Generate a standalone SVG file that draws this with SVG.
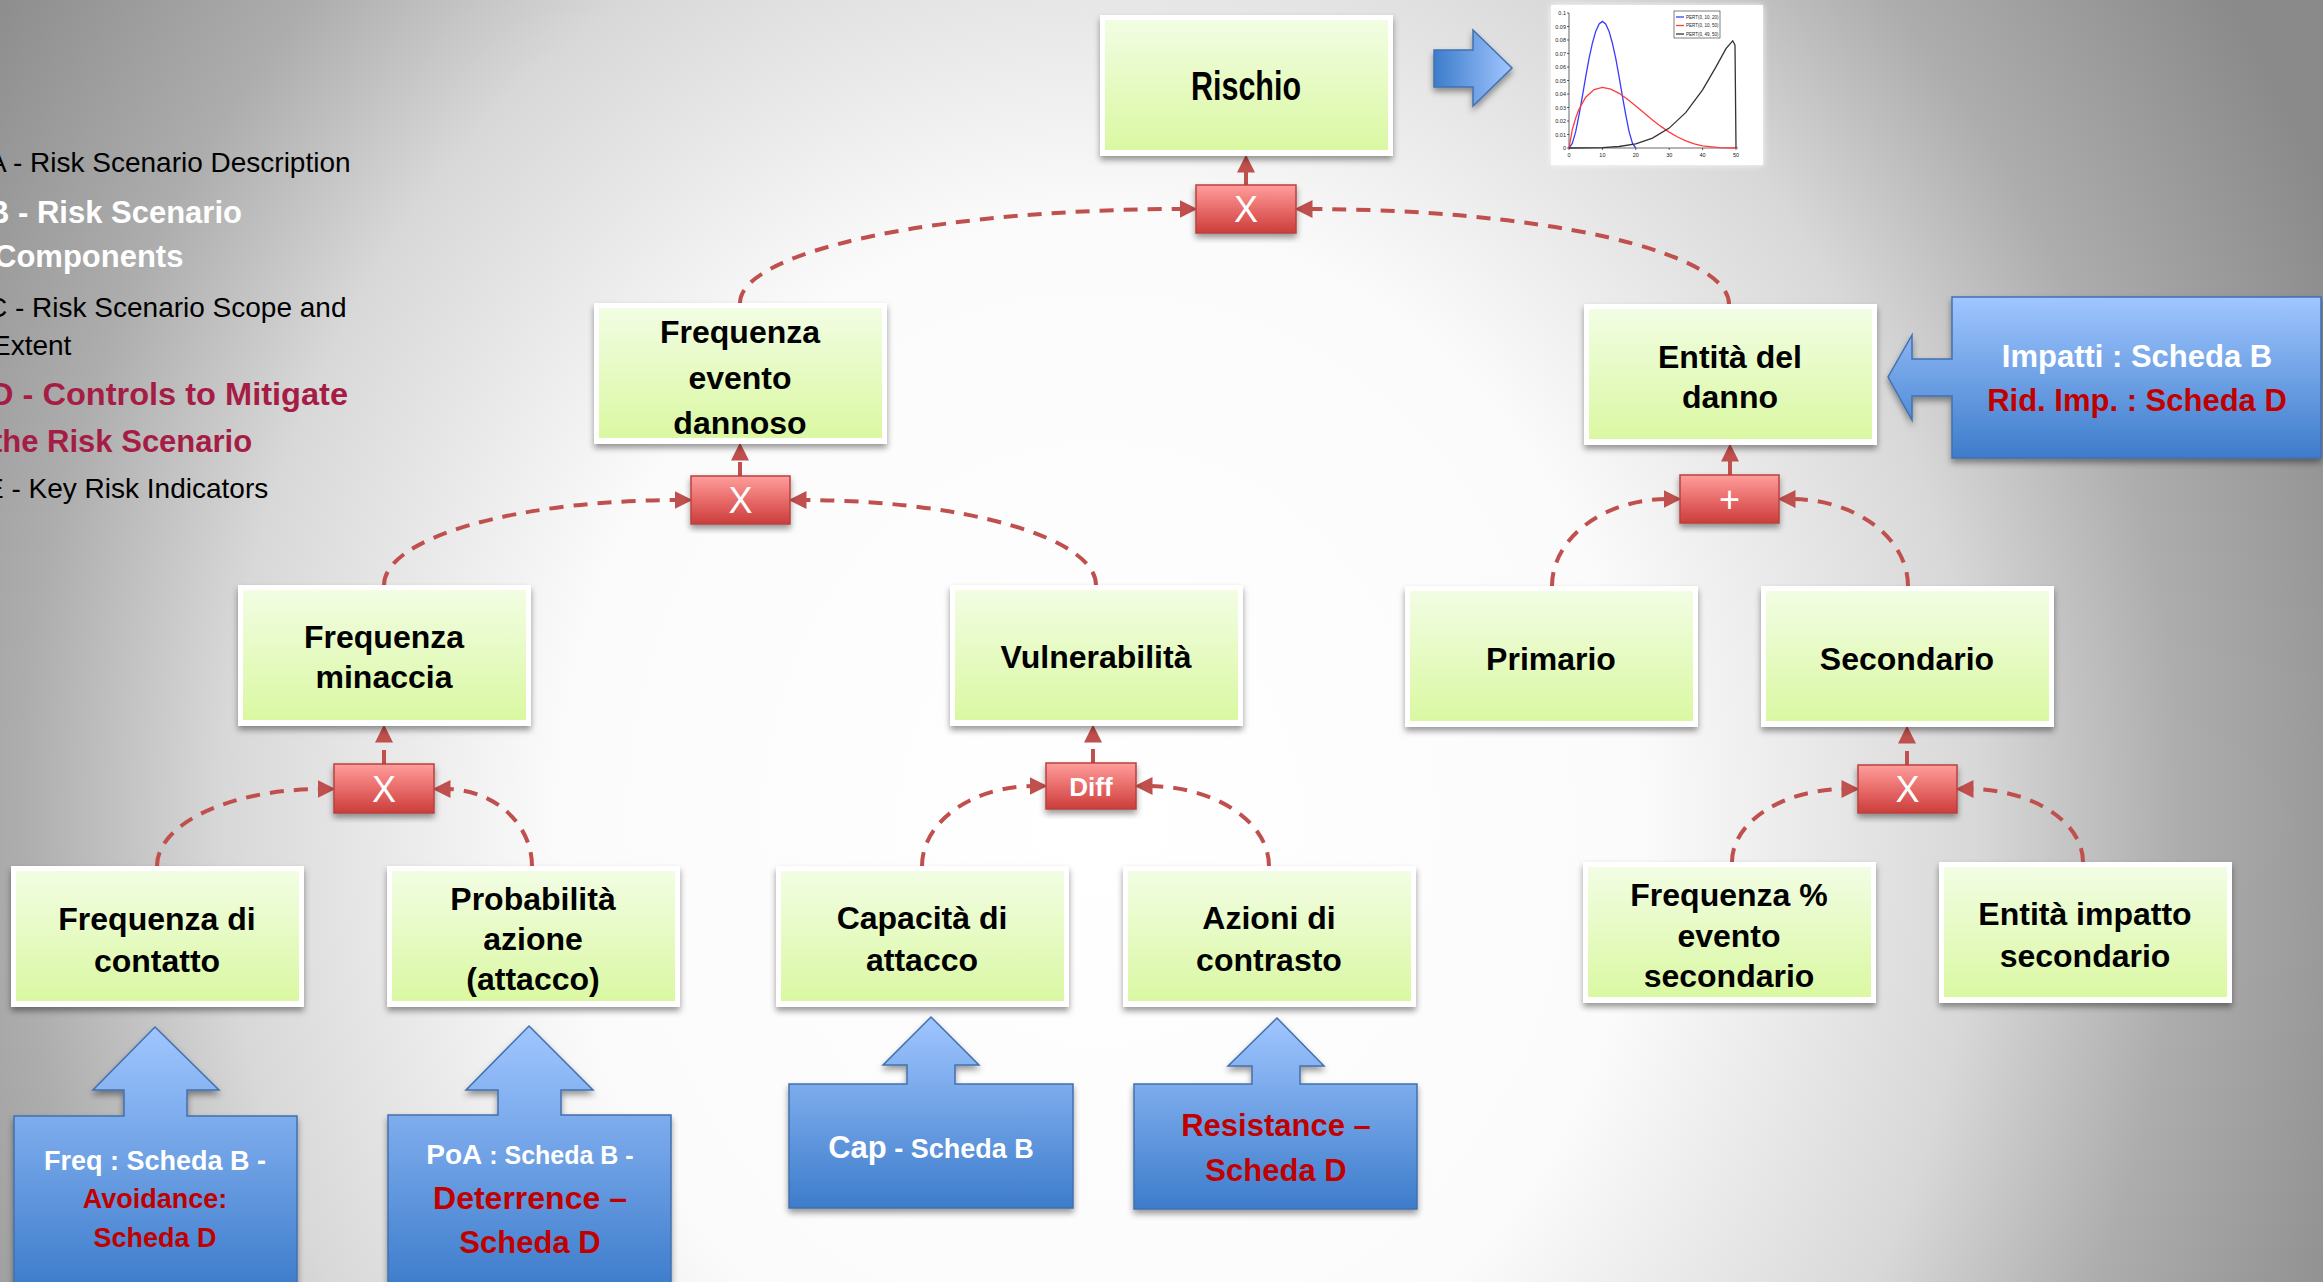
<svg xmlns="http://www.w3.org/2000/svg" width="2323" height="1282" viewBox="0 0 2323 1282">
  <defs>
    <radialGradient id="bg" gradientUnits="userSpaceOnUse" cx="1100" cy="820" r="1350" gradientTransform="translate(1100 820) scale(1 1.11) translate(-1100 -820)">
      <stop offset="0" stop-color="#FFFFFF"/>
      <stop offset="0.4" stop-color="#FBFBFB"/>
      <stop offset="0.65" stop-color="#D8D8D8"/>
      <stop offset="0.8" stop-color="#ADADAD"/>
      <stop offset="1" stop-color="#8A8A8A"/>
    </radialGradient>
    <linearGradient id="green" x1="0" y1="0" x2="0" y2="1">
      <stop offset="0" stop-color="#F2FDE3"/>
      <stop offset="1" stop-color="#DAF8A2"/>
    </linearGradient>
    <linearGradient id="redop" x1="0" y1="0" x2="0" y2="1">
      <stop offset="0" stop-color="#FF9E9C"/>
      <stop offset="0.5" stop-color="#E86C6A"/>
      <stop offset="1" stop-color="#CB3D3B"/>
    </linearGradient>
    <linearGradient id="blueV" x1="0" y1="0" x2="0" y2="1">
      <stop offset="0" stop-color="#A0C6FF"/>
      <stop offset="1" stop-color="#3D7CCB"/>
    </linearGradient>
    <linearGradient id="blueH" x1="0" y1="0" x2="1" y2="0">
      <stop offset="0" stop-color="#3D7CCB"/>
      <stop offset="1" stop-color="#A0C6FF"/>
    </linearGradient>
    <filter id="shadow" x="-10%" y="-10%" width="120%" height="130%">
      <feDropShadow dx="0" dy="4" stdDeviation="3" flood-color="#000" flood-opacity="0.4"/>
    </filter>
    <filter id="soft" x="-10%" y="-10%" width="120%" height="120%">
      <feDropShadow dx="0" dy="0" stdDeviation="3" flood-color="#FFFFFF" flood-opacity="0.9"/>
    </filter>
    <marker id="head" markerUnits="userSpaceOnUse" markerWidth="18" markerHeight="18" viewBox="0 0 16 16" refX="4" refY="8" orient="auto">
      <path d="M0,0 L16,8 L0,16 Z" fill="#C0504D"/>
    </marker>
  </defs>
  <style>
    .box { fill: #FFFFFF; filter: url(#shadow); }
    .inner { fill: url(#green); }
    .lbl { font-family: "Liberation Sans", Arial, sans-serif; font-weight: bold; font-size: 32px; fill: #000; text-anchor: middle; }
    .op rect { fill: url(#redop); stroke: #B9413E; stroke-width: 1.5; filter: url(#shadow); }
    .op text { font-family: "Liberation Sans", Arial, sans-serif; font-size: 36px; fill: #FFFFFF; text-anchor: middle; }
    .link { fill: none; stroke: #C0504D; stroke-width: 4; stroke-dasharray: 14 10; marker-end: url(#head); }
    .callout path { fill: url(#blueV); stroke: #4170B0; stroke-width: 1.5; filter: url(#shadow); }
    .ct { font-family: "Liberation Sans", Arial, sans-serif; font-weight: bold; text-anchor: middle; }
    .w { fill: #FFFFFF; }
    .r { fill: #C00000; }
    .leg { font-family: "Liberation Sans", Arial, sans-serif; font-size: 28px; fill: #000; }
    .legb { font-family: "Liberation Sans", Arial, sans-serif; font-size: 31px; font-weight: bold; }
    .ax { font-family: "Liberation Sans", Arial, sans-serif; font-size: 5.5px; fill: #222; }
  </style>

  <!-- slide background -->
  <rect x="0" y="0" width="2323" height="1282" fill="url(#bg)"/>

  <!-- section list on the left -->
  <g id="legend">
    <text class="leg" x="-12" y="172">A - Risk Scenario Description</text>
    <text class="legb" x="-13" y="223" fill="#FFFFFF">B - Risk Scenario</text>
    <text class="legb" x="-6" y="267" fill="#FFFFFF">Components</text>
    <text class="leg" x="-13" y="317">C - Risk Scenario Scope and</text>
    <text class="leg" x="-8" y="355">Extent</text>
    <text class="legb" x="-10" y="405" fill="#A51D45" textLength="358" lengthAdjust="spacingAndGlyphs">D - Controls to Mitigate</text>
    <text class="legb" x="-8" y="452" fill="#A51D45">the Risk Scenario</text>
    <text class="leg" x="-15" y="498">E - Key Risk Indicators</text>
  </g>

  <!-- connectors -->
  <g id="connectors">
    <path class="link" d="M1246,185 V168"/>
    <path class="link" d="M740,476 V456"/>
    <path class="link" d="M1730,475 V457"/>
    <path class="link" d="M384,764 V738"/>
    <path class="link" d="M1093,763 V738"/>
    <path class="link" d="M1907,765 V739"/>
    <path class="link" d="M740,303 A444,94 0 0 1 1184,209"/>
    <path class="link" d="M1729,304 A421,95 0 0 0 1308,209"/>
    <path class="link" d="M384,585 A295,85 0 0 1 679,500"/>
    <path class="link" d="M1096,585 A294,85 0 0 0 802,500"/>
    <path class="link" d="M1552,586 A116,87 0 0 1 1668,499"/>
    <path class="link" d="M1908,586 A117,87 0 0 0 1791,499"/>
    <path class="link" d="M157,866 A165,77 0 0 1 322,789"/>
    <path class="link" d="M532,866 A86,77 0 0 0 446,789"/>
    <path class="link" d="M922,866 A112,80 0 0 1 1034,786"/>
    <path class="link" d="M1269,866 A121,80 0 0 0 1148,786"/>
    <path class="link" d="M1732,862 A114,73 0 0 1 1846,789"/>
    <path class="link" d="M2083,862 A114,73 0 0 0 1969,789"/>
  </g>

  <!-- value nodes -->
  <g id="n-rischio">
    <rect class="box" x="1100" y="15" width="293" height="141"/>
    <rect class="inner" x="1105" y="20" width="283" height="130"/>
    <text class="lbl" x="1246" y="100" style="font-size:40px" textLength="110" lengthAdjust="spacingAndGlyphs">Rischio</text>
  </g>
  <g id="n-freq-evento">
    <rect class="box" x="594" y="303" width="293" height="141"/>
    <rect class="inner" x="599" y="308" width="283" height="130"/>
    <text class="lbl" x="740" y="343">Frequenza</text>
    <text class="lbl" x="740" y="389">evento</text>
    <text class="lbl" x="740" y="434">dannoso</text>
  </g>
  <g id="n-entita-danno">
    <rect class="box" x="1584" y="304" width="293" height="141"/>
    <rect class="inner" x="1589" y="309" width="283" height="130"/>
    <text class="lbl" x="1730" y="368">Entità del</text>
    <text class="lbl" x="1730" y="408">danno</text>
  </g>
  <g id="n-freq-minaccia">
    <rect class="box" x="238" y="585" width="293" height="141"/>
    <rect class="inner" x="243" y="590" width="283" height="130"/>
    <text class="lbl" x="384" y="648">Frequenza</text>
    <text class="lbl" x="384" y="688">minaccia</text>
  </g>
  <g id="n-vulnerabilita">
    <rect class="box" x="950" y="585" width="293" height="141"/>
    <rect class="inner" x="955" y="590" width="283" height="130"/>
    <text class="lbl" x="1096" y="668">Vulnerabilità</text>
  </g>
  <g id="n-primario">
    <rect class="box" x="1405" y="586" width="293" height="141"/>
    <rect class="inner" x="1410" y="591" width="283" height="130"/>
    <text class="lbl" x="1551" y="670">Primario</text>
  </g>
  <g id="n-secondario">
    <rect class="box" x="1761" y="586" width="293" height="141"/>
    <rect class="inner" x="1766" y="591" width="283" height="130"/>
    <text class="lbl" x="1907" y="670">Secondario</text>
  </g>
  <g id="n-freq-contatto">
    <rect class="box" x="11" y="866" width="293" height="141"/>
    <rect class="inner" x="16" y="871" width="283" height="130"/>
    <text class="lbl" x="157" y="930">Frequenza di</text>
    <text class="lbl" x="157" y="972">contatto</text>
  </g>
  <g id="n-prob-azione">
    <rect class="box" x="387" y="866" width="293" height="141"/>
    <rect class="inner" x="392" y="871" width="283" height="130"/>
    <text class="lbl" x="533" y="910">Probabilità</text>
    <text class="lbl" x="533" y="950">azione</text>
    <text class="lbl" x="533" y="990">(attacco)</text>
  </g>
  <g id="n-capacita">
    <rect class="box" x="776" y="866" width="293" height="141"/>
    <rect class="inner" x="781" y="871" width="283" height="130"/>
    <text class="lbl" x="922" y="929">Capacità di</text>
    <text class="lbl" x="922" y="971">attacco</text>
  </g>
  <g id="n-azioni">
    <rect class="box" x="1123" y="866" width="293" height="141"/>
    <rect class="inner" x="1128" y="871" width="283" height="130"/>
    <text class="lbl" x="1269" y="929">Azioni di</text>
    <text class="lbl" x="1269" y="971">contrasto</text>
  </g>
  <g id="n-freq-secondario">
    <rect class="box" x="1583" y="862" width="293" height="141"/>
    <rect class="inner" x="1588" y="867" width="283" height="130"/>
    <text class="lbl" x="1729" y="906">Frequenza %</text>
    <text class="lbl" x="1729" y="947">evento</text>
    <text class="lbl" x="1729" y="987">secondario</text>
  </g>
  <g id="n-entita-secondario">
    <rect class="box" x="1939" y="862" width="293" height="141"/>
    <rect class="inner" x="1944" y="867" width="283" height="130"/>
    <text class="lbl" x="2085" y="925">Entità impatto</text>
    <text class="lbl" x="2085" y="967">secondario</text>
  </g>

  <!-- operator nodes -->
  <g id="op-rischio" class="op">
    <rect x="1196" y="185" width="100" height="48"/>
    <text x="1246" y="222">X</text>
  </g>
  <g id="op-freq-evento" class="op">
    <rect x="691" y="476" width="99" height="48"/>
    <text x="740.5" y="513">X</text>
  </g>
  <g id="op-entita" class="op">
    <rect x="1680" y="475" width="99" height="48"/>
    <text x="1729.5" y="512">+</text>
  </g>
  <g id="op-minaccia" class="op">
    <rect x="334" y="764" width="100" height="49"/>
    <text x="384" y="802">X</text>
  </g>
  <g id="op-vulnerabilita" class="op">
    <rect x="1046" y="763" width="90" height="46"/>
    <text x="1091" y="796" style="font-size:26px;font-weight:bold">Diff</text>
  </g>
  <g id="op-secondario" class="op">
    <rect x="1858" y="765" width="99" height="48"/>
    <text x="1907.5" y="802">X</text>
  </g>

  <!-- input callouts -->
  <g id="c-freq" class="callout">
    <path d="M155,1027 L219,1090 L187,1090 L187,1116 L297,1116 L297,1290 L14,1290 L14,1116 L124,1116 L124,1090 L93,1090 Z"/>
    <text class="ct w" x="155" y="1170" font-size="27">Freq : Scheda B -</text>
    <text class="ct r" x="155" y="1208" font-size="27">Avoidance:</text>
    <text class="ct r" x="155" y="1247" font-size="27">Scheda D</text>
  </g>
  <g id="c-poa" class="callout">
    <path d="M529,1026 L593,1090 L561,1090 L561,1115 L671,1115 L671,1290 L388,1290 L388,1115 L498,1115 L498,1090 L466,1090 Z"/>
    <text class="ct w" x="530" y="1164" font-size="25"><tspan font-size="28">PoA</tspan> : Scheda B -</text>
    <text class="ct r" x="530" y="1209" font-size="32">Deterrence –</text>
    <text class="ct r" x="530" y="1253" font-size="31">Scheda D</text>
  </g>
  <g id="c-cap" class="callout">
    <path d="M931,1017 L979,1065 L955,1065 L955,1084 L1073,1084 L1073,1208 L789,1208 L789,1084 L907,1084 L907,1065 L883,1065 Z"/>
    <text class="ct w" x="931" y="1158" font-size="27"><tspan font-size="31">Cap</tspan> - Scheda B</text>
  </g>
  <g id="c-resistance" class="callout">
    <path d="M1277,1018 L1324,1066 L1300,1066 L1300,1084 L1417,1084 L1417,1209 L1134,1209 L1134,1084 L1252,1084 L1252,1066 L1228,1066 Z"/>
    <text class="ct r" x="1276" y="1136" font-size="31">Resistance –</text>
    <text class="ct r" x="1276" y="1181" font-size="31">Scheda D</text>
  </g>
  <g id="c-impatti" class="callout">
    <path d="M1888,377 L1912,335 L1912,359 L1952,359 L1952,297 L2321,297 L2321,458 L1952,458 L1952,396 L1912,396 L1912,420 Z"/>
    <text class="ct w" x="2137" y="367" font-size="31">Impatti : Scheda B</text>
    <text class="ct r" x="2137" y="411" font-size="31">Rid. Imp. : Scheda D</text>
  </g>
  <g id="c-output" class="callout">
    <path d="M1434,50 L1473,50 L1473,30 L1512,68 L1473,106 L1473,87 L1434,87 Z" style="fill:url(#blueH)"/>
  </g>

  <!-- PERT distribution chart -->
  <g id="chart">
    <rect x="1551" y="5" width="212" height="160" fill="#FFFFFF" filter="url(#soft)"/>
    <g stroke="#000" stroke-width="0.6" fill="none">
      <path d="M1569,13 V148 H1738"/>
      <path d="M1567,13 H1569 M1567,26.5 H1569 M1567,40 H1569 M1567,53.5 H1569 M1567,67 H1569 M1567,80.5 H1569 M1567,94 H1569 M1567,107.5 H1569 M1567,121 H1569 M1567,134.5 H1569 M1567,148 H1569"/>
      <path d="M1569,148 V150 M1602.4,148 V150 M1635.8,148 V150 M1669.2,148 V150 M1702.6,148 V150 M1736,148 V150"/>
    </g>
    <g class="ax" text-anchor="end">
      <text x="1566" y="15">0.1</text>
      <text x="1566" y="28.5">0.09</text>
      <text x="1566" y="42">0.08</text>
      <text x="1566" y="55.5">0.07</text>
      <text x="1566" y="69">0.06</text>
      <text x="1566" y="82.5">0.05</text>
      <text x="1566" y="96">0.04</text>
      <text x="1566" y="109.5">0.03</text>
      <text x="1566" y="123">0.02</text>
      <text x="1566" y="136.5">0.01</text>
      <text x="1566" y="150">0</text>
    </g>
    <g class="ax" text-anchor="middle">
      <text x="1569" y="157">0</text>
      <text x="1602.4" y="157">10</text>
      <text x="1635.8" y="157">20</text>
      <text x="1669.2" y="157">30</text>
      <text x="1702.6" y="157">40</text>
      <text x="1736" y="157">50</text>
    </g>
    <polyline fill="none" stroke="#3B3BFF" stroke-width="1.3" points="1569,148 1572.3,143.4 1575.7,131.6 1579,115.1 1582.4,96.2 1585.7,76.8 1589,58.7 1592.4,43.2 1595.7,31.4 1599.1,24 1602.4,21.4 1605.7,24 1609.1,31.4 1612.4,43.2 1615.8,58.7 1619.1,76.8 1622.4,96.2 1625.8,115.1 1629.1,131.6 1632.5,143.4 1635.8,148"/>
    <polyline fill="none" stroke="#FF3B3B" stroke-width="1.3" points="1569,148 1572.3,129.6 1575.7,118 1579,109.3 1585.7,97.2 1594.1,89.5 1602.4,87.4 1610.8,89.2 1619.1,93.3 1627.5,99.2 1635.8,106 1644.2,113 1652.5,119.9 1660.9,126.4 1669.2,132.1 1677.6,137 1685.9,140.8 1694.3,143.8 1702.6,145.8 1719.3,147.7 1736,148"/>
    <polyline fill="none" stroke="#333333" stroke-width="1.3" points="1569,148 1602.4,147.7 1619.1,146.5 1635.8,143.8 1652.5,138.1 1669.2,128.1 1685.9,112.4 1702.6,89.8 1716,66.9 1726,48.6 1732.7,40.8 1735,45.1 1736,148"/>
    <rect x="1674" y="11" width="46" height="27" fill="#FFFFFF" stroke="#000" stroke-width="0.5"/>
    <path d="M1676,17 H1684" stroke="#3B3BFF" stroke-width="1.3"/>
    <path d="M1676,25.5 H1684" stroke="#FF3B3B" stroke-width="1.3"/>
    <path d="M1676,34 H1684" stroke="#333333" stroke-width="1.3"/>
    <g class="ax" style="font-size:4.5px">
      <text x="1686" y="18.5">PERT(0, 10, 20)</text>
      <text x="1686" y="27">PERT(0, 10, 50)</text>
      <text x="1686" y="35.5">PERT(0, 49, 50)</text>
    </g>
  </g>
</svg>
